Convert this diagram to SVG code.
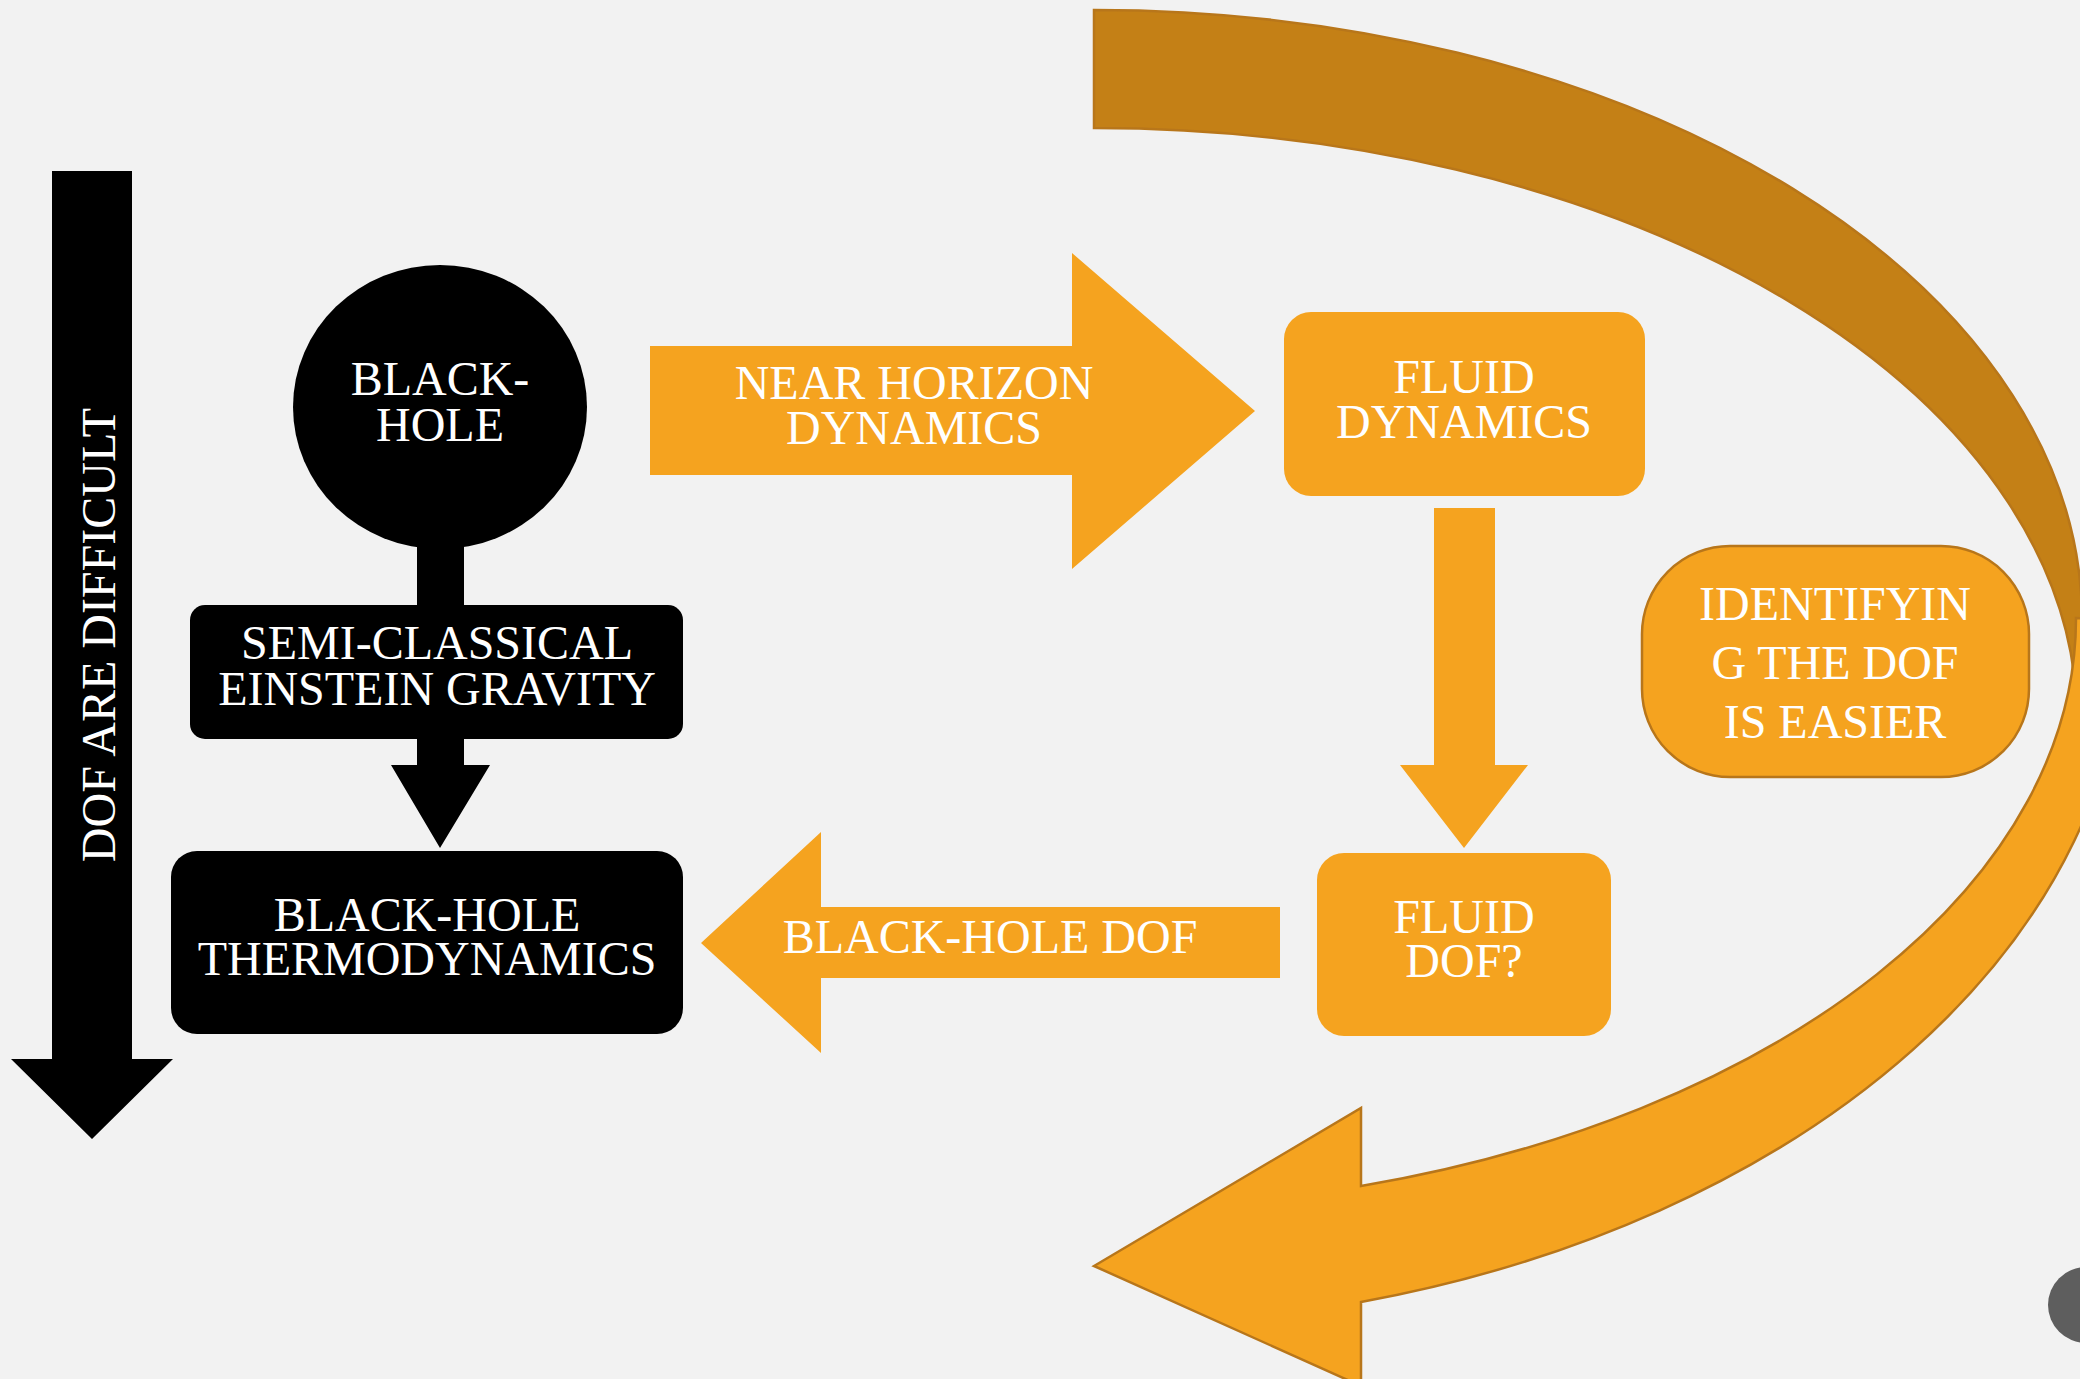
<svg xmlns="http://www.w3.org/2000/svg" width="2080" height="1379" viewBox="0 0 2080 1379">
<style>
.t{font-family:"Liberation Serif","Times New Roman",serif;font-size:48px;fill:#ffffff;text-anchor:middle}
.blk{fill:#000000}
.org{fill:#F5A31F}
.curve{stroke:#B8761A;stroke-width:2.5;stroke-linejoin:miter}
</style>
<rect x="0" y="0" width="2080" height="1379" fill="#F2F2F2"/>

<g id="connectors">
  <path id="curved-arrow-back" class="curve" fill="#C48016" d="M1094,10 A988,610 0 0 1 2082,620 L2077,720 A983,592 0 0 0 1094,128 Z"/>
  <path id="curved-arrow-front" class="curve org" d="M2076,618 L2126,620 A1032,706 0 0 1 1361,1302 L1361,1386 L1094,1266 L1361,1108 L1361,1186 A982,590 0 0 0 2076,618 Z"/>
  <polygon id="bh-to-semi-to-thermo" class="blk" points="417,540 464,540 464,765 490,765 440,848 391,765 417,765"/>
  <polygon id="fluid-down" class="org" points="1434,508 1495,508 1495,765 1528,765 1464,848 1400,765 1434,765"/>
</g>

<g id="dof-difficult">
  <polygon class="blk" points="52,171 132,171 132,1059 173,1059 92,1139 11,1059 52,1059"/>
  <text class="t" transform="translate(115,635) rotate(-90)">DOF ARE DIFFICULT</text>
</g>

<g id="black-hole">
  <ellipse class="blk" cx="440" cy="407" rx="147" ry="142"/>
  <text class="t" x="440" y="395">BLACK-</text>
  <text class="t" x="440" y="441">HOLE</text>
</g>

<g id="semi-classical">
  <rect class="blk" x="190" y="605" width="493" height="134" rx="15"/>
  <text class="t" x="437" y="659">SEMI-CLASSICAL</text>
  <text class="t" x="437" y="705">EINSTEIN GRAVITY</text>
</g>

<g id="bh-thermo">
  <rect class="blk" x="171" y="851" width="512" height="183" rx="26"/>
  <text class="t" x="427" y="931">BLACK-HOLE</text>
  <text class="t" x="427" y="975">THERMODYNAMICS</text>
</g>

<g id="near-horizon">
  <polygon class="org" points="650,346 1072,346 1072,253 1255,411 1072,569 1072,475 650,475"/>
  <text class="t" x="914" y="399">NEAR HORIZON</text>
  <text class="t" x="914" y="444">DYNAMICS</text>
</g>

<g id="fluid-dynamics">
  <rect class="org" x="1284" y="312" width="361" height="184" rx="27"/>
  <text class="t" x="1464" y="393">FLUID</text>
  <text class="t" x="1464" y="438">DYNAMICS</text>
</g>

<g id="fluid-dof">
  <rect class="org" x="1317" y="853" width="294" height="183" rx="27"/>
  <text class="t" x="1464" y="933">FLUID</text>
  <text class="t" x="1464" y="977">DOF?</text>
</g>

<g id="black-hole-dof">
  <polygon class="org" points="1280,907 821,907 821,832 701,943 821,1053 821,978 1280,978"/>
  <text class="t" x="990" y="953">BLACK-HOLE DOF</text>
</g>

<g id="identifying">
  <rect class="org" x="1642" y="546" width="387" height="231" rx="88" stroke="#B8761A" stroke-width="2.5"/>
  <text class="t" x="1835" y="620">IDENTIFYIN</text>
  <text class="t" x="1835" y="679">G THE DOF</text>
  <text class="t" x="1835" y="738">IS EASIER</text>
</g>

<g id="corner-button">
  <circle cx="2086" cy="1305" r="38" fill="#5E5E5E"/>
</g>
</svg>
